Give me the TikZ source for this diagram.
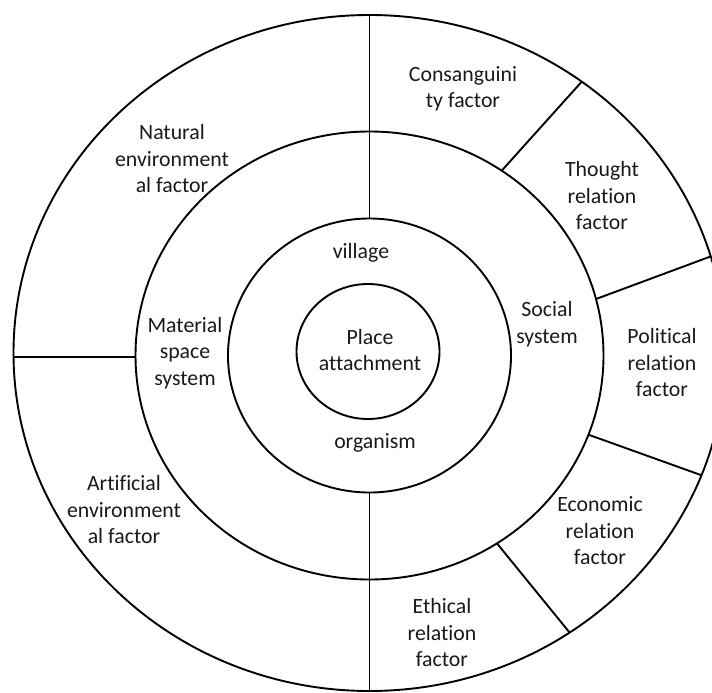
\documentclass[tikz,border=0pt]{standalone}
\usepackage{fontspec}
\setmainfont{Carlito}[Ligatures=CommonOff]
\usetikzlibrary{calc}
\begin{document}
\begin{tikzpicture}[x=1pt,y=-1pt,line width=1.9pt,
  lbl/.style={align=center,font=\fontsize{21.8}{26.5}\selectfont,inner sep=0pt,text=black!90}]
\useasboundingbox (0,0) rectangle (712,693);
\begin{scope}
\clip (0,0) rectangle (712,693);
\coordinate (c0) at (369.5,353);
\coordinate (c) at (369.5,355.5);
\coordinate (ci) at (368,351.5);
% rings
\draw (c0) ellipse [x radius=356pt, y radius=338pt];
\draw (c) ellipse [x radius=234pt, y radius=224pt];
\draw (c) ellipse [x radius=141.5pt, y radius=137pt];
\draw (ci) ellipse [x radius=71.5pt, y radius=67.5pt];
% vertical divider
\coordinate (vt1) at ($(c0)+(90:356pt and 338pt)$);
\coordinate (vt2) at ($(c)+(90:141.5pt and 137pt)$);
\coordinate (vb1) at ($(c)+(270:141.5pt and 137pt)$);
\coordinate (vb2) at ($(c0)+(270:356pt and 338pt)$);
\draw (vt1) -- (vt2);
\draw (vb1) -- (vb2);
% left horizontal divider
\coordinate (h1) at (13,357);
\coordinate (h2) at (135.5,357);
\draw (h1) -- (h2);
% right dividers
\coordinate (d1a) at ($(c)+(55.6:234pt and 224pt)$);
\coordinate (d1b) at ($(c0)+(53.4:356pt and 338pt)$);
\coordinate (d2a) at ($(c)+(14.6:234pt and 224pt)$);
\coordinate (d2b) at ($(c0)+(16.6:356pt and 338pt)$);
\coordinate (d3a) at ($(c)+(-20.7:234pt and 224pt)$);
\coordinate (d3b) at ($(c0)+(-21.2:356pt and 338pt)$);
\coordinate (d4a) at ($(c)+(-57:234pt and 224pt)$);
\coordinate (d4b) at ($(c0)+(-55.8:356pt and 338pt)$);
\draw (d1a) -- (d1b);
\draw (d2a) -- (d2b);
\draw (d3a) -- (d3b);
\draw (d4a) -- (d4b);
\end{scope}
% labels
\node[lbl] (cons) at (463,89) {Consanguini\\ty factor};
\node[lbl] (thought) at (602,196) {Thought\\relation\\factor};
\node[lbl] (polit) at (662,363) {Political\\relation\\factor};
\node[lbl] (econ) at (600,531) {Economic\\relation\\factor};
\node[lbl] (ethic) at (442,633) {Ethical\\relation\\factor};
\node[lbl] (natural) at (172,159) {Natural\\environment\\al factor};
\node[lbl] (artif) at (124,510) {Artificial\\environment\\al factor};
\node[lbl] (material) at (185,353) {Material\\space\\system};
\node[lbl] (social) at (547,324) {Social\\system};
\node[lbl] (village) at (361,253) {village};
\node[lbl] (organism) at (375,443) {organism};
\node[lbl] (place) at (370,350) {Place\\attachment};
\end{tikzpicture}
\end{document}
